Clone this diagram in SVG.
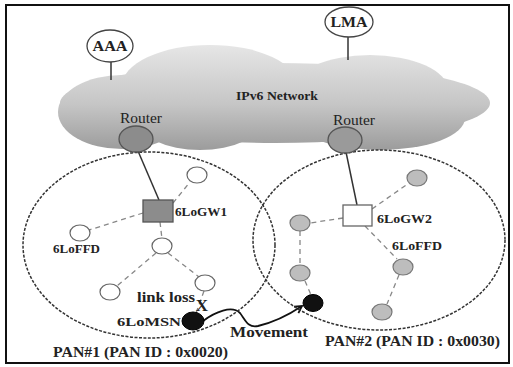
<svg xmlns="http://www.w3.org/2000/svg" width="513" height="367" viewBox="0 0 513 367">
<defs>
<linearGradient id="cg" gradientUnits="userSpaceOnUse" x1="0" y1="45" x2="0" y2="152">
<stop offset="0" stop-color="#e6e6e6"/>
<stop offset="0.55" stop-color="#c6c6c6"/>
<stop offset="1" stop-color="#9a9a9a"/>
</linearGradient>
<marker id="arr" markerWidth="10" markerHeight="10" refX="8" refY="5" orient="auto" markerUnits="userSpaceOnUse">
<path d="M1,1 L8,5 L1,9" fill="none" stroke="#111" stroke-width="1.8"/>
</marker>
</defs>
<style>
.t{font-family:"Liberation Serif","Times New Roman",serif;fill:#222}
.b{font-weight:bold}
.pan{fill:none;stroke:#333;stroke-width:1.5;stroke-dasharray:3 1.5}
.dl{stroke:#888;stroke-width:1.3;stroke-dasharray:5 4;fill:none}
.sl{stroke:#333;stroke-width:1.5;fill:none}
.wn{fill:#fff;stroke:#666;stroke-width:1.2}
.gn{fill:#bdbdbd;stroke:#777;stroke-width:1.2}
.bn{fill:#111;stroke:#000;stroke-width:1}
.rt{stroke:#555;stroke-width:1.3}
</style>
<rect x="6" y="5" width="503" height="358" fill="#fff" stroke="#111" stroke-width="2"/>

<g id="cloud" fill="url(#cg)">
<ellipse cx="275" cy="103" rx="215" ry="40"/>
<ellipse cx="210" cy="86" rx="88" ry="41"/>
<ellipse cx="370" cy="90" rx="78" ry="35"/>
<ellipse cx="122" cy="112" rx="64" ry="37"/>
<ellipse cx="200" cy="120" rx="62" ry="30"/>
<ellipse cx="380" cy="118" rx="85" ry="32"/>
</g>
<text class="t b" x="236" y="100" font-size="13" textLength="82" lengthAdjust="spacingAndGlyphs">IPv6 Network</text>

<g id="connectors">
<line class="sl" x1="111" y1="62" x2="111" y2="80"/>
<line class="sl" x1="348" y1="37" x2="348" y2="60"/>
<line class="sl" x1="138" y1="151" x2="159" y2="200"/>
<line class="sl" x1="346" y1="152" x2="357" y2="205"/>
<line class="dl" x1="173" y1="203" x2="190" y2="182"/>
<line class="dl" x1="143" y1="213" x2="89" y2="230"/>
<line class="dl" x1="160" y1="222" x2="162" y2="239"/>
<line class="dl" x1="156" y1="253" x2="117" y2="286"/>
<line class="dl" x1="168" y1="253" x2="199" y2="277"/>
<line class="dl" x1="204" y1="291" x2="196" y2="313"/>
<line class="dl" x1="372" y1="209" x2="409" y2="183"/>
<line class="dl" x1="343" y1="218" x2="310" y2="223"/>
<line class="dl" x1="365" y1="226" x2="397" y2="259"/>
<line class="dl" x1="300" y1="231" x2="300" y2="265"/>
<line class="dl" x1="305" y1="281" x2="311" y2="295"/>
<line class="dl" x1="399" y1="275" x2="387" y2="304"/>
<path id="movement" d="M203 321 C 215 312, 232 305, 240 313 C 246 321, 248 328, 258 326 C 275 322, 290 314, 302 306" fill="none" stroke="#111" stroke-width="1.8" marker-end="url(#arr)"/>
</g>

<ellipse class="pan" cx="149" cy="245" rx="126" ry="93"/>
<ellipse class="pan" cx="379" cy="240" rx="126" ry="90"/>

<g id="aaa">
<ellipse cx="110" cy="46" rx="23" ry="16" fill="#fff" stroke="#444" stroke-width="1.3"/>
<text class="t b" x="110" y="51" font-size="14" text-anchor="middle" textLength="35" lengthAdjust="spacingAndGlyphs">AAA</text>
</g>
<g id="lma">
<ellipse cx="349" cy="22" rx="24" ry="15" fill="#fff" stroke="#444" stroke-width="1.3"/>
<text class="t b" x="349" y="27" font-size="14" text-anchor="middle" textLength="37" lengthAdjust="spacingAndGlyphs">LMA</text>
</g>
<g id="router1">
<text class="t" x="120" y="123" font-size="14" textLength="42" lengthAdjust="spacingAndGlyphs">Router</text>
<ellipse class="rt" cx="136" cy="139" rx="17" ry="13" fill="#8c8c8c"/>
</g>
<g id="router2">
<text class="t" x="333" y="125" font-size="14" textLength="42" lengthAdjust="spacingAndGlyphs">Router</text>
<ellipse class="rt" cx="345" cy="140" rx="17" ry="13" fill="#9a9a9a"/>
</g>
<g id="gw1">
<rect x="143" y="200" width="30" height="22" fill="#8c8c8c" stroke="#555" stroke-width="1.3"/>
<text class="t b" x="175" y="216" font-size="13" textLength="52" lengthAdjust="spacingAndGlyphs">6LoGW1</text>
</g>
<g id="gw2">
<rect x="343" y="205" width="29" height="21" fill="#fff" stroke="#666" stroke-width="1.3"/>
<text class="t b" x="377" y="223" font-size="13" textLength="55" lengthAdjust="spacingAndGlyphs">6LoGW2</text>
</g>
<g id="n1a"><ellipse class="wn" cx="197" cy="175" rx="10" ry="8"/></g>
<g id="n1b"><ellipse class="wn" cx="80" cy="233" rx="10" ry="8"/><text class="t b" x="53" y="253" font-size="13" textLength="47" lengthAdjust="spacingAndGlyphs">6LoFFD</text></g>
<g id="n1c"><ellipse class="wn" cx="162" cy="246" rx="10" ry="8"/></g>
<g id="n1d"><ellipse class="wn" cx="110" cy="292" rx="10" ry="8"/></g>
<g id="n1e"><ellipse class="wn" cx="205" cy="283" rx="10" ry="8"/></g>
<g id="msn1"><ellipse class="bn" cx="193" cy="321" rx="11" ry="9"/><text class="t b" x="117" y="326" font-size="13" textLength="64" lengthAdjust="spacingAndGlyphs">6LoMSN</text></g>
<g id="linkloss"><text class="t b" x="137" y="302" font-size="14" textLength="58" lengthAdjust="spacingAndGlyphs">link loss</text><text class="t b" x="202" y="311" font-size="17" text-anchor="middle">X</text></g>
<g id="n2a"><ellipse class="gn" cx="417" cy="178" rx="10" ry="8"/></g>
<g id="n2b"><ellipse class="gn" cx="300" cy="223" rx="10" ry="8"/></g>
<g id="n2c"><ellipse class="gn" cx="300" cy="273" rx="10" ry="8"/></g>
<g id="n2d"><ellipse class="bn" cx="313" cy="303" rx="10" ry="8.5"/></g>
<g id="n2e"><ellipse class="gn" cx="403" cy="267" rx="10" ry="8"/><text class="t b" x="392" y="250" font-size="13" textLength="50" lengthAdjust="spacingAndGlyphs">6LoFFD</text></g>
<g id="n2f"><ellipse class="gn" cx="382" cy="312" rx="10" ry="8"/></g>
<text class="t b" x="230" y="337" font-size="14" textLength="78" lengthAdjust="spacingAndGlyphs">Movement</text>
<text class="t b" x="53" y="357" font-size="14" textLength="175" lengthAdjust="spacingAndGlyphs">PAN#1 (PAN ID : 0x0020)</text>
<text class="t b" x="325" y="346" font-size="14" textLength="175" lengthAdjust="spacingAndGlyphs">PAN#2 (PAN ID : 0x0030)</text>
</svg>
